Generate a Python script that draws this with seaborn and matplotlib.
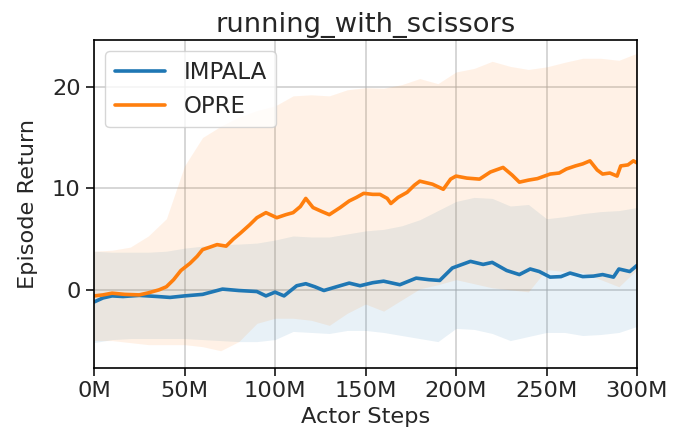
import numpy as np
import pandas as pd
import matplotlib
matplotlib.use("Agg")
import matplotlib.pyplot as plt
import seaborn as sns

# ---- data (millions of actor steps) ----
impala_steps = [0, 5, 10, 16, 25, 35, 42, 50, 60, 71, 80, 90, 95, 100, 105, 112, 117, 122, 127,
                134, 141, 147, 154, 160, 169, 178, 185, 191, 198, 208, 215, 220, 228, 235, 241,
                246, 252, 258, 263, 270, 276, 281, 287, 290, 296, 300]
impala_mean = [-1.2, -0.8, -0.6, -0.66, -0.55, -0.66, -0.75, -0.6, -0.45, 0.07, -0.07, -0.17, -0.6,
               -0.23, -0.6, 0.4, 0.6, 0.3, -0.07, 0.3, 0.66, 0.4, 0.7, 0.85, 0.5, 1.15, 1.0, 0.92,
               2.15, 2.8, 2.5, 2.7, 1.9, 1.5, 2.05, 1.8, 1.25, 1.3, 1.65, 1.3, 1.35, 1.5, 1.25,
               2.05, 1.8, 2.4]

opre_steps = [0, 5, 10, 17, 25, 30, 36, 40, 44, 48, 53, 57, 60, 64, 68, 73, 77, 81, 86, 90, 95,
              101, 106, 110, 114, 117, 121, 126, 130, 136, 141, 145, 149, 154, 158, 162, 164, 168,
              173, 177, 180, 187, 193, 197, 200, 206, 213, 219, 226, 231, 235, 240, 245, 252, 257,
              261, 266, 270, 274, 278, 281, 285, 289, 291, 295, 298, 300]
opre_mean = [-0.6, -0.5, -0.33, -0.45, -0.5, -0.3, 0.0, 0.3, 1.0, 1.9, 2.6, 3.3, 3.96, 4.2, 4.45,
             4.3, 5.0, 5.6, 6.4, 7.1, 7.6, 7.1, 7.4, 7.6, 8.2, 9.0, 8.1, 7.7, 7.4, 8.1, 8.75, 9.1,
             9.5, 9.4, 9.4, 9.0, 8.5, 9.1, 9.6, 10.3, 10.7, 10.4, 9.9, 10.9, 11.2, 11.0, 10.9, 11.6,
             12.05, 11.3, 10.6, 10.8, 10.95, 11.4, 11.5, 11.9, 12.2, 12.4, 12.7, 11.8, 11.4, 11.5,
             11.2, 12.2, 12.3, 12.7, 12.5]

band_steps = [0, 10, 20, 30, 40, 50, 60, 70, 80, 90, 100, 110, 120, 130, 140, 150, 160, 170, 180,
              190, 200, 210, 220, 230, 240, 250, 260, 270, 280, 290, 300]
impala_upper = [3.8, 3.7, 3.7, 3.7, 3.8, 4.1, 4.3, 4.45, 4.5, 4.6, 4.9, 5.3, 5.2, 5.2, 5.5, 5.8,
                5.95, 6.3, 6.9, 7.8, 8.7, 9.1, 9.0, 8.25, 8.4, 7.0, 7.2, 7.5, 7.7, 7.8, 8.1]
impala_lower = [-5.2, -4.9, -4.8, -4.8, -4.8, -4.8, -4.9, -5.0, -5.1, -5.1, -4.9, -4.1, -4.2, -4.3,
                -4.0, -4.0, -4.2, -4.5, -4.8, -5.1, -3.8, -3.9, -4.3, -5.0, -4.6, -4.2, -4.2, -4.5,
                -4.4, -4.2, -3.6]
opre_upper = [3.8, 3.9, 4.2, 5.3, 7.0, 12.2, 15.0, 16.1, 17.0, 17.65, 18.1, 19.1, 19.2, 19.1, 19.7,
              19.9, 19.85, 20.2, 20.8, 20.3, 21.45, 21.8, 22.5, 22.0, 21.7, 21.95, 22.4, 22.8, 22.8,
              22.6, 23.3]
opre_lower = [-5.0, -5.0, -5.2, -5.4, -5.4, -5.4, -5.6, -6.0, -5.1, -3.3, -2.8, -2.8, -3.0, -3.5,
              -2.3, -1.4, -2.1, -1.0, 0.1, 0.5, 1.0, 0.6, 0.2, 0.0, -0.2, 2.0, 1.8, 1.7, 1.0, 0.3, 2.0]

series_names = ["IMPALA", "OPRE"]
x_ticks = [0, 50, 100, 150, 200, 250, 300]
x_tick_labels = ["0M", "50M", "100M", "150M", "200M", "250M", "300M"]
y_ticks = [0, 10, 20]

colors = {"IMPALA": "#1f77b4", "OPRE": "#ff7f0e"}

df = pd.concat([
    pd.DataFrame({"step": impala_steps, "ret": impala_mean, "agent": "IMPALA"}),
    pd.DataFrame({"step": opre_steps, "ret": opre_mean, "agent": "OPRE"}),
])

sns.set_style("ticks")
plt.rcParams["font.family"] = ["DejaVu Sans"]

BASE = 16.2

fig = plt.figure(figsize=(6.73, 4.48), dpi=100)
ax = fig.add_axes([94 / 673, 1 - 368 / 448, (637 - 94) / 673, (368 - 40) / 448])

ax.fill_between(band_steps, impala_lower, impala_upper, color=colors["IMPALA"], alpha=0.1, linewidth=0)
ax.fill_between(band_steps, opre_lower, opre_upper, color=colors["OPRE"], alpha=0.1, linewidth=0)

sns.lineplot(data=df, x="step", y="ret", hue="agent", palette=colors, linewidth=2.6, ax=ax,
             hue_order=series_names)

ax.set_xlim(0, 300)
ax.set_ylim(-7.7, 24.6)
ax.set_xticks(x_ticks)
ax.set_xticklabels(x_tick_labels)
ax.set_yticks(y_ticks)
ax.tick_params(labelsize=BASE, direction="out", length=6, width=1.1, color="black")
ax.grid(True, color="#b0b0b0", alpha=0.6, linewidth=1.2)
for s in ax.spines.values():
    s.set_color("black")
    s.set_linewidth(1.2)

ax.set_xlabel("Actor Steps", fontsize=BASE)
ax.set_ylabel("Episode Return", fontsize=BASE, labelpad=10)
ax.set_title("running_with_scissors", fontsize=BASE * 1.22)

leg = ax.legend(loc="upper left", fontsize=16.5, frameon=True, handlelength=2.2)
leg.get_frame().set_edgecolor("#cccccc")
for line in leg.get_lines():
    line.set_linewidth(2.6)

fig.savefig("out.png", dpi=100)
